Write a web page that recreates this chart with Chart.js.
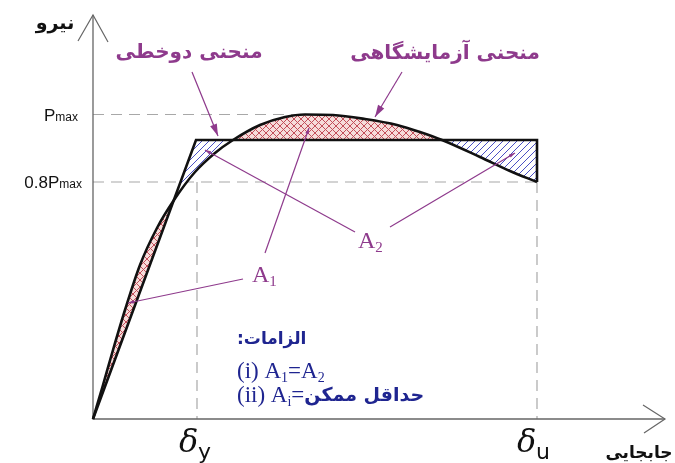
<!DOCTYPE html>
<html>
<head>
<meta charset="utf-8">
<script src="https://cdn.jsdelivr.net/npm/chart.js@4.4.1/dist/chart.umd.min.js"></script>
<style>
  html, body { margin: 0; padding: 0; background: #fff; }
  #wrap { width: 675px; height: 463px; }
</style>
</head>
<body>
<div id="wrap"><canvas id="chart" width="675" height="463"></canvas></div>
<script>
// values (displacement / force, arbitrary units)
const testX = [0, 10, 20, 32, 47, 64, 81, 102, 122, 140, 167, 192, 212, 240, 272, 304, 327, 349, 387, 417, 444];
const testY = [0, 34, 69, 109, 154, 191, 219, 247, 266, 279, 294, 302, 304.5, 304, 300, 294, 287, 279, 262, 248, 237];
const bilinX = [0, 103, 444, 444];
const bilinY = [0, 279, 279, 237];
const pMax = 304.5;
const p08 = 237;
const deltaY = 104;
const deltaU = 444;
const pMaxDashEnd = 207;
const xAxisEnd = 572;
const yAxisEnd = 404;

// pointer lines [fromX, fromY, toX, toY, headSize]
const pointers = [
  [99, 347, 125, 283, 12],
  [309, 347, 282, 302, 12],
  [150, 140, 35, 116, 6],
  [172, 166, 216, 291, 6],
  [262, 187, 112, 269, 6],
  [297, 192, 422, 266, 6]
];

const purple = '#8e3a8c';
const navy = '#1f2590';

const pts = (xs, ys) => xs.map((x, i) => ({x: x, y: ys[i]}));

function hatch(size, bg, fg, cross) {
  const c = document.createElement('canvas');
  c.width = c.height = size;
  const g = c.getContext('2d');
  g.fillStyle = bg;
  g.fillRect(0, 0, size, size);
  g.strokeStyle = fg;
  g.lineWidth = 1;
  g.beginPath();
  g.moveTo(0, size); g.lineTo(size, 0);
  g.moveTo(-1, 1); g.lineTo(1, -1);
  g.moveTo(size - 1, size + 1); g.lineTo(size + 1, size - 1);
  if (cross) {
    g.moveTo(0, 0); g.lineTo(size, size);
    g.moveTo(size - 1, -1); g.lineTo(size + 1, 1);
    g.moveTo(-1, size - 1); g.lineTo(1, size + 1);
  }
  g.stroke();
  return g.createPattern(c, 'repeat');
}

const redHatch = hatch(7, '#f6dcda', '#c24e5a', true);
const blueHatch = hatch(7, '#ffffff', '#4a50c4', false);

const dash = (data) => ({
  data: data, borderColor: '#a8a8a8', borderWidth: 1.2, borderDash: [11, 7],
  pointRadius: 0, fill: false
});

// text + pointers drawn through the scales
const notes = {
  id: 'notes',
  afterDatasetsDraw(chart) {
    const {ctx, scales: {x, y}} = chart;
    const X = v => x.getPixelForValue(v);
    const Y = v => y.getPixelForValue(v);
    ctx.save();

    // pointers
    ctx.strokeStyle = purple;
    ctx.fillStyle = purple;
    ctx.lineWidth = 1.2;
    pointers.forEach(([x1, y1, x2, y2, h]) => {
      const ax = X(x1), ay = Y(y1), bx = X(x2), by = Y(y2);
      const a = Math.atan2(by - ay, bx - ax);
      ctx.beginPath(); ctx.moveTo(ax, ay); ctx.lineTo(bx, by); ctx.stroke();
      const w = h * 0.3;
      ctx.beginPath();
      ctx.moveTo(bx, by);
      ctx.lineTo(bx - h * Math.cos(a) + w * Math.sin(a), by - h * Math.sin(a) - w * Math.cos(a));
      ctx.lineTo(bx - h * Math.cos(a) - w * Math.sin(a), by - h * Math.sin(a) + w * Math.cos(a));
      ctx.closePath(); ctx.fill();
    });

    const fa = (txt, px, py, font, color, align) => {
      ctx.font = font; ctx.fillStyle = color; ctx.textAlign = align || 'left';
      ctx.fillText(txt, px, py);
      return ctx.measureText(txt).width;
    };

    // persian labels
    ctx.direction = 'rtl';
    ctx.textBaseline = 'middle';
    fa('نیرو', X(-38), Y(395), 'bold 19px "DejaVu Sans"', '#111', 'center');
    fa('منحنی دوخطی', X(96), Y(366), 'bold 20px "DejaVu Sans"', purple, 'center');
    fa('منحنی آزمایشگاهی', X(352), Y(365), 'bold 20px "DejaVu Sans"', purple, 'center');
    fa('جابجایی', X(546), Y(-35), 'bold 17px "DejaVu Sans"', '#111', 'center');
    ctx.textBaseline = 'alphabetic';
    fa('الزامات:', X(144), Y(75), 'bold 17px "DejaVu Sans"', navy, 'left');
    ctx.direction = 'ltr';

    // tick-like labels
    let w = fa('max', X(-15), Y(pMax) + 6, '12px "Liberation Sans"', '#111', 'right');
    fa('P', X(-15) - w, Y(pMax) + 6, '17px "Liberation Sans"', '#111', 'right');
    w = fa('max', X(-11), Y(p08) + 6, '12px "Liberation Sans"', '#111', 'right');
    fa('0.8P', X(-11) - w, Y(p08) + 6, '17px "Liberation Sans"', '#111', 'right');

    // deltas
    fa('δ', X(deltaY) - 18, Y(-33), 'italic 32px "DejaVu Serif"', '#111');
    fa('y', X(deltaY) + 1, Y(-40), '22px "DejaVu Sans"', '#111');
    fa('δ', X(deltaU) - 20, Y(-33), 'italic 32px "DejaVu Serif"', '#111');
    fa('u', X(deltaU) - 1, Y(-40), '22px "DejaVu Sans"', '#111');

    // area labels
    const sub = (base, s, px, py, color, big, small) => {
      const bw = fa(base, px, py, big + 'px "Liberation Serif"', color);
      const sw = fa(s, px + bw, py + 4, small + 'px "Liberation Serif"', color);
      return bw + sw;
    };
    sub('A', '1', X(159), Y(137), purple, 24, 15);
    sub('A', '2', X(265), Y(171), purple, 24, 15);

    let cx = X(144);
    const by1 = Y(41), by2 = Y(17);
    cx += fa('(i) ', cx, by1, '23px "Liberation Serif"', navy);
    cx += sub('A', '1', cx, by1, navy, 23, 14);
    cx += fa('=', cx, by1, '23px "Liberation Serif"', navy);
    sub('A', '2', cx, by1, navy, 23, 14);

    cx = X(144);
    cx += fa('(ii) ', cx, by2, '23px "Liberation Serif"', navy);
    cx += sub('A', 'i', cx, by2, navy, 23, 14);
    cx += fa('=', cx, by2, '23px "Liberation Serif"', navy);
    fa('حداقل ممکن', cx, by2 - 1, 'bold 19px "DejaVu Sans"', navy);

    ctx.restore();
  }
};

new Chart(document.getElementById('chart').getContext('2d'), {
  type: 'line',
  data: {
    datasets: [
      { // bilinear idealisation
        data: pts(bilinX, bilinY), borderColor: '#111', borderWidth: 2.6,
        pointRadius: 0, fill: false, tension: 0
      },
      { // test curve, shaded against the bilinear line
        data: pts(testX, testY), borderColor: '#111', borderWidth: 2.6,
        pointRadius: 0, cubicInterpolationMode: 'monotone',
        fill: {target: 0, above: redHatch, below: blueHatch}
      },
      { // axes
        data: [{x: 0, y: yAxisEnd}, {x: 0, y: 0}, {x: xAxisEnd, y: 0}],
        borderColor: '#666', borderWidth: 1.3, pointRadius: 0, fill: false
      },
      {
        data: [{x: -15, y: yAxisEnd - 26}, {x: 0, y: yAxisEnd}, {x: 15, y: yAxisEnd - 27}],
        borderColor: '#666', borderWidth: 1.2, pointRadius: 0, fill: false
      },
      {
        data: [{x: xAxisEnd - 22, y: 14}, {x: xAxisEnd, y: 0}, {x: xAxisEnd - 21, y: -14}],
        borderColor: '#666', borderWidth: 1.2, pointRadius: 0, fill: false
      },
      dash([{x: 0, y: pMax}, {x: pMaxDashEnd, y: pMax}]),
      dash([{x: 0, y: p08}, {x: deltaU, y: p08}]),
      dash([{x: deltaY, y: p08}, {x: deltaY, y: 0}]),
      dash([{x: deltaU, y: p08}, {x: deltaU, y: 0}])
    ]
  },
  options: {
    responsive: false,
    animation: false,
    layout: {padding: 0},
    scales: {
      x: {type: 'linear', min: -93, max: 582, display: false},
      y: {type: 'linear', min: -44, max: 419, display: false}
    },
    plugins: {
      legend: {display: false},
      tooltip: {enabled: false}
    }
  },
  plugins: [notes]
});
</script>
</body>
</html>
